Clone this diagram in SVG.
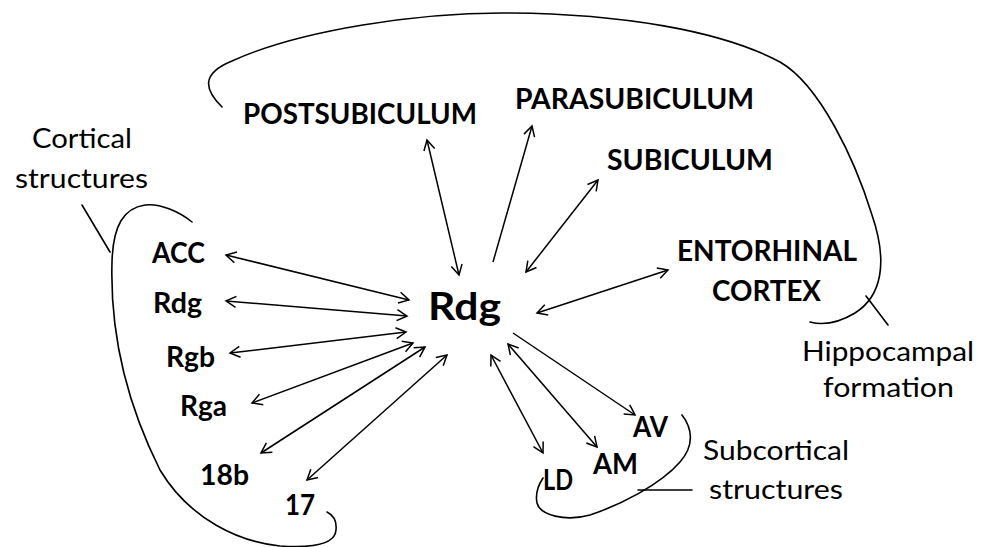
<svg xmlns="http://www.w3.org/2000/svg" width="985" height="547" viewBox="0 0 985 547">
  <defs>
    <marker id="head" viewBox="-12 -7 14 14" refX="0" refY="0" markerWidth="14" markerHeight="14" markerUnits="userSpaceOnUse" orient="auto-start-reverse">
      <path d="M-10,-5.5 L0,0 L-10,5.5" fill="none" stroke="#000" stroke-width="1.5" stroke-linejoin="miter"/>
    </marker>
    <style>
      .lbl { font-family: Lato, "Open Sans", "Liberation Sans", sans-serif; font-weight: bold; font-size: 28px; fill: #000; }
      .hub { font-family: Lato, "Open Sans", "Liberation Sans", sans-serif; font-weight: bold; font-size: 38px; fill: #000; }
      .note { font-family: Lato, "Open Sans", "Liberation Sans", sans-serif; font-size: 27px; fill: #000; }
      .conn line { stroke: #000; stroke-width: 1.5; fill: none; }
      .both { marker-start: url(#head); marker-end: url(#head); }
      .one { marker-end: url(#head); }
      .bracket { fill: none; stroke: #000; stroke-width: 1.6; stroke-linecap: round; }
    </style>
  </defs>
  <rect width="985" height="547" fill="#fff"/>

  <!-- group outlines -->
  <g id="hippocampal-formation">
    <path class="bracket" d="M222,107 C205,90 200,74 232,61 C300,30 420,12 510,13 C620,14 720,30 780,62 C820,85 855,160 872,215 C888,262 882,296 855,313 C840,322 825,326 810,322"/>
    <line class="bracket" x1="866" y1="296" x2="888" y2="325"/>
    <text class="note" x="802" y="361" textLength="172" lengthAdjust="spacingAndGlyphs">Hippocampal</text>
    <text class="note" x="823" y="397" textLength="131" lengthAdjust="spacingAndGlyphs">formation</text>
  </g>
  <g id="cortical-structures">
    <path class="bracket" d="M192,222 C180,212 160,203 145,205 C124,208 113,225 112,262 C110,330 125,400 160,470 C190,520 240,542 280,546 C310,548 335,545 336,530 C337,520 333,515 327,512"/>
    <line class="bracket" x1="82" y1="205" x2="110" y2="252"/>
    <text class="note" x="32" y="148" textLength="100" lengthAdjust="spacingAndGlyphs">Cortical</text>
    <text class="note" x="15" y="188" textLength="133" lengthAdjust="spacingAndGlyphs">structures</text>
  </g>
  <g id="subcortical-structures">
    <path class="bracket" d="M682,415 C692,428 695,445 680,462 C660,485 620,505 590,515 C565,522 540,515 537,503 C535,493 539,484 543,478"/>
    <line class="bracket" x1="638" y1="490" x2="692" y2="490"/>
    <text class="note" x="703" y="460" textLength="146" lengthAdjust="spacingAndGlyphs">Subcortical</text>
    <text class="note" x="709" y="499" textLength="134" lengthAdjust="spacingAndGlyphs">structures</text>
  </g>

  <!-- connectors -->
  <g id="connectors" class="conn">
    <line class="both" x1="459" y1="275" x2="427" y2="140"/>
    <line class="one" x1="493" y1="262" x2="532" y2="126"/>
    <line class="both" x1="526" y1="272" x2="598" y2="180"/>
    <line class="both" x1="537" y1="313" x2="668" y2="270"/>
    <line class="one" x1="513" y1="333" x2="635" y2="415"/>
    <line class="both" x1="508" y1="344" x2="597" y2="447"/>
    <line class="both" x1="491" y1="355" x2="543" y2="453"/>
    <line class="both" x1="409" y1="300" x2="226" y2="255"/>
    <line class="both" x1="407" y1="316" x2="226" y2="301"/>
    <line class="both" x1="406" y1="332" x2="230" y2="353"/>
    <line class="both" x1="413" y1="343" x2="252" y2="403"/>
    <line class="both" x1="425" y1="347" x2="261" y2="453"/>
    <line class="both" x1="447" y1="355" x2="307" y2="480"/>
  </g>

  <!-- nodes -->
  <g id="node-rdg-hub"><text class="hub" x="428" y="320" textLength="73" lengthAdjust="spacingAndGlyphs">Rdg</text></g>
  <g id="node-postsubiculum"><text class="lbl" x="243" y="124" textLength="234" lengthAdjust="spacingAndGlyphs">POSTSUBICULUM</text></g>
  <g id="node-parasubiculum"><text class="lbl" x="515" y="109" textLength="239" lengthAdjust="spacingAndGlyphs">PARASUBICULUM</text></g>
  <g id="node-subiculum"><text class="lbl" x="607" y="170" textLength="166" lengthAdjust="spacingAndGlyphs">SUBICULUM</text></g>
  <g id="node-entorhinal">
    <text class="lbl" x="677" y="261" textLength="180" lengthAdjust="spacingAndGlyphs">ENTORHINAL</text>
    <text class="lbl" x="712" y="301" textLength="109" lengthAdjust="spacingAndGlyphs">CORTEX</text>
  </g>
  <g id="node-acc"><text class="lbl" x="152" y="263" textLength="53" lengthAdjust="spacingAndGlyphs">ACC</text></g>
  <g id="node-rdg"><text class="lbl" x="153" y="313" textLength="49" lengthAdjust="spacingAndGlyphs">Rdg</text></g>
  <g id="node-rgb"><text class="lbl" x="166" y="367" textLength="49" lengthAdjust="spacingAndGlyphs">Rgb</text></g>
  <g id="node-rga"><text class="lbl" x="180" y="416" textLength="47" lengthAdjust="spacingAndGlyphs">Rga</text></g>
  <g id="node-18b"><text class="lbl" x="200" y="485" textLength="49" lengthAdjust="spacingAndGlyphs">18b</text></g>
  <g id="node-17"><text class="lbl" x="285" y="515" textLength="30" lengthAdjust="spacingAndGlyphs">17</text></g>
  <g id="node-av"><text class="lbl" x="633" y="437" textLength="35" lengthAdjust="spacingAndGlyphs">AV</text></g>
  <g id="node-am"><text class="lbl" x="593" y="474" textLength="45" lengthAdjust="spacingAndGlyphs">AM</text></g>
  <g id="node-ld"><text class="lbl" x="543" y="490" textLength="30" lengthAdjust="spacingAndGlyphs">LD</text></g>
</svg>
